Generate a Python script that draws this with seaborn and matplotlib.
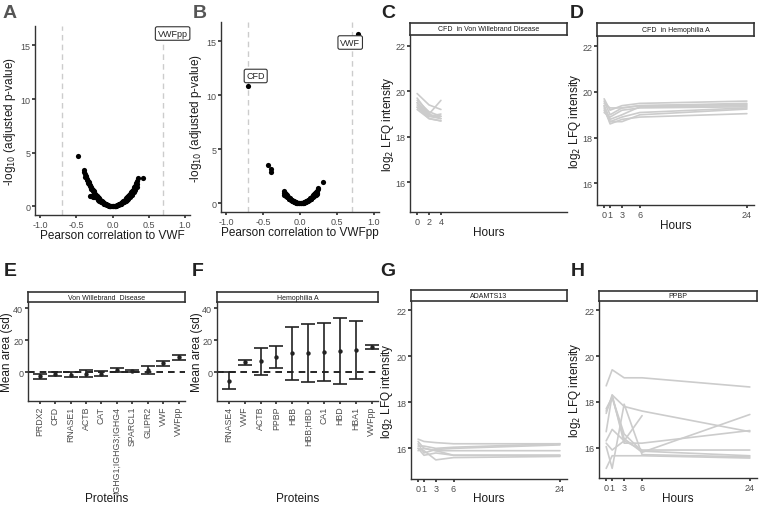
import numpy as np
import pandas as pd
import matplotlib
matplotlib.use('Agg')
import matplotlib.pyplot as plt
import seaborn as sns

# ---- Panel A: correlation to VWF (volcano) ----
a_corr = [-0.47, -0.40, -0.39, -0.38, -0.37, -0.36, -0.35, -0.34, -0.33, -0.32, -0.31,
          -0.30, -0.29, -0.28, -0.27, -0.26, -0.25, -0.24, -0.23, -0.22, -0.21, -0.20,
          -0.19, -0.18, -0.17, -0.16, -0.15, -0.14, -0.13, -0.12, -0.11, -0.10, -0.09,
          -0.08, -0.07, -0.06, -0.05, -0.04, -0.03, -0.02, -0.01, 0.00, 0.01, 0.02,
          0.03, 0.04, 0.05, 0.06, 0.07, 0.08, 0.09, 0.10, 0.11, 0.12, 0.13, 0.14,
          0.15, 0.16, 0.17, 0.18, 0.19, 0.20, 0.21, 0.22, 0.23, 0.24, 0.25, 0.26,
          0.27, 0.28, 0.29, 0.30, 0.31, 0.32, 0.33, 0.34, 0.35, 0.42,
          -0.31, -0.29, -0.27, -0.25, -0.22, -0.20, -0.18, -0.15, -0.12, 0.12,
          0.15, 0.18, 0.21, 0.24, 0.27,
          -0.375, -0.355, -0.335, -0.315, -0.295, -0.275, -0.255, -0.235, -0.215,
          -0.195, -0.175, -0.155, -0.135, -0.115, -0.095, -0.075, -0.055, -0.035,
          0.035, 0.055, 0.075, 0.095, 0.115, 0.135, 0.155, 0.175, 0.195, 0.215,
          0.235, 0.255, 0.275, 0.295, 0.315, 0.335, 0.345]
a_logp = [4.70, 3.40, 3.20, 3.00, 2.85, 2.70, 2.55, 2.40, 2.25, 2.10, 2.00,
          1.85, 1.75, 1.60, 1.50, 1.40, 1.30, 1.20, 1.10, 1.00, 0.95, 0.85,
          0.78, 0.70, 0.62, 0.55, 0.50, 0.43, 0.38, 0.32, 0.27, 0.23, 0.19,
          0.15, 0.12, 0.09, 0.07, 0.05, 0.03, 0.02, 0.01, 0.00, 0.01, 0.02,
          0.03, 0.05, 0.07, 0.09, 0.12, 0.15, 0.19, 0.23, 0.27, 0.32, 0.37, 0.42,
          0.48, 0.54, 0.60, 0.68, 0.75, 0.83, 0.90, 0.98, 1.07, 1.16, 1.25, 1.35,
          1.45, 1.55, 1.66, 1.78, 1.90, 2.05, 2.20, 2.40, 2.60, 2.60,
          1.00, 0.95, 0.90, 0.85, 0.75, 0.62, 0.50, 0.38, 0.27, 0.27,
          0.38, 0.55, 0.72, 0.95, 1.05,
          2.75, 2.45, 2.15, 1.90, 1.65, 1.45, 1.25, 1.05, 0.88,
          0.72, 0.58, 0.45, 0.35, 0.26, 0.18, 0.12, 0.07, 0.03,
          0.03, 0.07, 0.12, 0.18, 0.25, 0.33, 0.42, 0.52, 0.63, 0.75,
          0.88, 1.02, 1.18, 1.35, 1.55, 1.80, 2.10]

# ---- Panel B: correlation to VWFpp ----
b_corr = [-0.70, 0.78, -0.43, -0.39, -0.39, -0.22, -0.21, -0.20, -0.19, -0.18, -0.17,
          -0.16, -0.15, -0.14, -0.13, -0.12, -0.11, -0.10, -0.09, -0.08, -0.07, -0.06,
          -0.05, -0.04, -0.03, -0.02, -0.01, 0.00, 0.01, 0.02, 0.03, 0.04, 0.05, 0.06,
          0.07, 0.08, 0.09, 0.10, 0.11, 0.12, 0.13, 0.14, 0.15, 0.16, 0.17, 0.18,
          0.19, 0.20, 0.21, 0.22, 0.23, 0.24, 0.25, 0.31,
          -0.21, -0.19, -0.17, -0.15, 0.15, 0.18, 0.21, 0.23,
          -0.205, -0.185, -0.165, -0.145, -0.125, -0.105, -0.085, -0.065, -0.045,
          0.045, 0.065, 0.085, 0.105, 0.125, 0.145, 0.165, 0.185, 0.205, 0.225]
b_logp = [10.90, 15.70, 3.60, 3.20, 2.90, 1.10, 1.00, 0.92, 0.84, 0.76, 0.68,
          0.60, 0.53, 0.46, 0.40, 0.34, 0.29, 0.24, 0.20, 0.16, 0.12, 0.09,
          0.07, 0.05, 0.03, 0.02, 0.01, 0.00, 0.01, 0.02, 0.03, 0.05, 0.07, 0.09,
          0.12, 0.16, 0.20, 0.24, 0.29, 0.34, 0.40, 0.46, 0.53, 0.60, 0.68, 0.76,
          0.84, 0.92, 1.00, 1.08, 1.17, 1.30, 1.40, 2.00,
          0.75, 0.65, 0.55, 0.45, 0.40, 0.55, 0.75, 0.90,
          0.80, 0.68, 0.56, 0.45, 0.35, 0.26, 0.18, 0.11, 0.05,
          0.05, 0.11, 0.18, 0.26, 0.35, 0.45, 0.56, 0.68, 0.80, 0.95]

# ---- Panels C, D: CFD time courses ----
c_hours = [0, 2, 4]
c_values = [[19.9, 19.4, 19.2],
            [19.7, 19.0, 19.6],
            [19.6, 19.1, 18.9],
            [19.5, 19.0, 18.8],
            [19.4, 18.9, 18.8],
            [19.3, 18.8, 18.7],
            [19.2, 18.8, 18.7],
            [19.5, 18.9, 19.0],
            [19.3, 18.9, 18.9]]

d_hours = [0, 1, 3, 6, 24]
d_values = [[19.7, 19.2, 19.4, 19.5, 19.6],
            [19.6, 19.0, 19.3, 19.4, 19.45],
            [19.4, 18.8, 19.0, 19.35, 19.4],
            [19.3, 18.6, 18.8, 18.9, 19.05],
            [19.2, 18.7, 18.9, 19.1, 19.3],
            [19.1, 18.9, 19.2, 19.3, 19.35],
            [19.5, 19.3, 19.3, 19.4, 19.5],
            [19.4, 18.7, 18.7, 19.0, 19.25]]

# ---- Panels E, F: mean area (sd) ----
e_proteins = ['PRDX2', 'CFD', 'RNASE1', 'ACTB', 'CAT', 'IGHG1;IGHG3;IGHG4',
              'SPARCL1', 'GLIPR2', 'VWF', 'VWFpp']
e_mean = [-2.6, -1.3, -1.5, -0.8, -0.8, 1.3, 1.0, 1.3, 5.5, 9.3]
e_sd = [1.6, 1.2, 1.6, 2.0, 1.8, 1.4, 0.7, 2.4, 1.4, 1.6]

f_proteins = ['RNASE4', 'VWF', 'ACTB', 'PPBP', 'HBB', 'HBB;HBD', 'CA1', 'HBD',
              'HBA1', 'VWFpp']
f_mean = [-5.3, 6.2, 6.8, 9.8, 11.8, 11.9, 12.6, 13.3, 13.7, 16.0]
f_sd = [5.3, 1.5, 8.4, 6.9, 16.5, 18.1, 18.2, 20.6, 18.1, 1.3]

# ---- Panels G, H: ADAMTS13 and PPBP time courses ----
g_hours = [0, 1, 3, 6, 24]
g_values = [[16.4, 16.3, 16.25, 16.2, 16.2],
            [16.3, 16.0, 15.9, 15.9, 15.9],
            [16.1, 16.1, 16.0, 16.05, 16.2],
            [16.0, 15.7, 15.8, 15.7, 15.7],
            [16.0, 15.9, 15.5, 15.6, 15.65],
            [16.2, 15.8, 15.95, 16.0, 16.15],
            [15.9, 16.0, 15.9, 15.7, 15.7]]

h_hours = [0, 1, 3, 6, 24]
h_values = [[18.7, 19.4, 19.05, 19.05, 18.65],
            [17.5, 18.3, 17.8, 17.6, 16.7],
            [17.7, 18.2, 16.4, 15.8, 17.45],
            [16.7, 18.3, 16.2, 16.2, 16.75],
            [16.3, 16.8, 16.3, 15.9, 15.9],
            [16.05, 15.1, 17.9, 15.7, 15.6],
            [15.1, 15.65, 15.65, 15.65, 15.55],
            [16.2, 15.9, 16.3, 17.4, np.nan],
            [17.6, 18.2, 16.6, 15.85, 15.65]]

W, H = 760, 510
LINE_GREY = '#cccccc'
TEXT_GREY = '#4d4d4d'

sns.set_theme(style='ticks')
plt.rcParams['font.family'] = ['Liberation Sans', 'DejaVu Sans']
plt.rcParams['axes.edgecolor'] = '#333333'
plt.rcParams['axes.linewidth'] = 1.0
plt.rcParams['xtick.color'] = '#333333'
plt.rcParams['ytick.color'] = '#333333'
plt.rcParams['xtick.labelcolor'] = TEXT_GREY
plt.rcParams['ytick.labelcolor'] = TEXT_GREY
plt.rcParams['xtick.major.size'] = 2.2
plt.rcParams['ytick.major.size'] = 2.2
plt.rcParams['xtick.major.pad'] = 1.2
plt.rcParams['ytick.major.pad'] = 1.2
plt.rcParams['xtick.labelsize'] = 6.5
plt.rcParams['ytick.labelsize'] = 6.5
plt.rcParams['axes.labelsize'] = 8.5
plt.rcParams['axes.labelcolor'] = '#1a1a1a'

fig = plt.figure(figsize=(W / 100, H / 100), dpi=100)


def add_ax(left, top, right, bottom):
    """Axes from pixel box (y measured from top)"""
    return fig.add_axes([left / W, 1 - bottom / H, (right - left) / W, (bottom - top) / H])


def add_strip(left, top, right, bottom, label):
    s = add_ax(left, top, right, bottom)
    s.set_xticks([])
    s.set_yticks([])
    for sp in s.spines.values():
        sp.set_visible(True)
        sp.set_linewidth(1.2)
        sp.set_color('#333333')
    s.text(0.5, 0.5, label, ha='center', va='center', fontsize=5, color='#1a1a1a',
           transform=s.transAxes)


def place_labels(ax, box, xlab_top, ylab_center):
    """Put axis titles at pixel positions like the reference"""
    left, top, right, bottom = box
    ax.xaxis.set_label_coords(0.5, (bottom - xlab_top) / (bottom - top))
    ax.yaxis.set_label_coords((ylab_center + 8 - left) / (right - left), 0.5)


def classic(ax):
    sns.despine(ax=ax)
    ax.grid(False)


def volcano(ax, corr, logp, xlabel, labels):
    ax.axvline(-0.7, color=LINE_GREY, ls=(0, (4, 3)), lw=1, zorder=0)
    ax.axvline(0.7, color=LINE_GREY, ls=(0, (4, 3)), lw=1, zorder=0)
    df = pd.DataFrame({'r': corr, 'p': logp})
    sns.scatterplot(data=df, x='r', y='p', ax=ax, color='black', s=14, linewidth=0)
    for txt, x, y in labels:
        ax.text(x, y, txt, ha='center', va='center', fontsize=6.5, color='#222222',
                bbox=dict(boxstyle='round,pad=0.25,rounding_size=0.2', fc='white',
                          ec='#333333', lw=0.8), clip_on=False)
    ax.set_xlim(-1.07, 1.07)
    ax.set_ylim(-0.8, 16.8)
    ax.set_xticks([-1.0, -0.5, 0.0, 0.5, 1.0])
    ax.set_xticklabels(['-1.0', '-0.5', '0.0', '0.5', '1.0'])
    ax.set_yticks([0, 5, 10, 15])
    ax.set_xlabel(xlabel)
    ax.set_ylabel(r'-log$_{10}$ (adjusted p-value)')
    classic(ax)


def timecourse(ax, hours, values, xticks, ylim):
    rows = []
    for i, series in enumerate(values):
        for h, v in zip(hours, series):
            if not np.isnan(v):
                rows.append({'sample': i, 'hours': h, 'value': v})
    df = pd.DataFrame(rows)
    sns.lineplot(data=df, x='hours', y='value', units='sample', estimator=None,
                 color=LINE_GREY, lw=1.2, ax=ax)
    ax.set_xlim(-1.2, 25.2)
    ax.set_ylim(*ylim)
    ax.set_xticks(xticks)
    ax.set_yticks([16, 18, 20, 22])
    ax.set_xlabel('Hours')
    ax.set_ylabel(r'log$_2$ LFQ intensity')
    classic(ax)


def mean_sd(ax, proteins, means, sds):
    x = np.arange(len(proteins))
    ax.axhline(0, color='black', ls=(0, (4, 3)), lw=1.2, zorder=0)
    ax.errorbar(x, means, yerr=sds, fmt='none', ecolor='#222222', elinewidth=1.2,
                capsize=4.7, capthick=1.2)
    df = pd.DataFrame({'x': x, 'mean': means})
    sns.scatterplot(data=df, x='x', y='mean', ax=ax, color='#222222', s=10,
                    linewidth=0, zorder=3)
    ax.set_xlim(-0.75, 9.4)
    ax.set_ylim(-18, 44)
    ax.set_xticks(x)
    ax.set_xticklabels(proteins, rotation=90, fontsize=6.3)
    ax.set_yticks([0, 20, 40])
    ax.set_xlabel('Proteins')
    ax.set_ylabel('Mean area (sd)')
    classic(ax)


# A
boxA = (35, 27, 190, 216)
axA = add_ax(*boxA)
volcano(axA, a_corr, a_logp, 'Pearson correlation to VWF', [('VWFpp', 0.83, 16.1)])
place_labels(axA, boxA, 230, 10)

# B
boxB = (221, 23, 379, 213)
axB = add_ax(*boxB)
volcano(axB, b_corr, b_logp, 'Pearson correlation to VWFpp',
        [('CFD', -0.60, 11.8), ('VWF', 0.68, 14.9)])
place_labels(axB, boxB, 227, 196)

# C
boxC = (410, 36, 567, 213)
axC = add_ax(*boxC)
timecourse(axC, c_hours, c_values, [0, 2, 4], (14.7, 22.47))
add_strip(410, 24, 567, 36, 'CFD  in Von Willebrand Disease')
place_labels(axC, boxC, 227, 388)

# D
boxD = (597, 37, 754, 206)
axD = add_ax(*boxD)
timecourse(axD, d_hours, d_values, [0, 1, 3, 6, 24], (15.05, 22.45))
add_strip(597, 24, 754, 37, 'CFD  in Hemophilia A')
place_labels(axD, boxD, 220, 575)

# E
boxE = (28, 303, 185, 402)
axE = add_ax(*boxE)
mean_sd(axE, e_proteins, e_mean, e_sd)
add_strip(28, 293, 185, 303, 'Von Willebrand  Disease')
place_labels(axE, boxE, 493, 5)

# F
boxF = (217, 303, 378, 402)
axF = add_ax(*boxF)
mean_sd(axF, f_proteins, f_mean, f_sd)
add_strip(217, 293, 378, 303, 'Hemophilia A')
place_labels(axF, boxF, 493, 195)

# G
boxG = (411, 302, 567, 480)
axG = add_ax(*boxG)
timecourse(axG, g_hours, g_values, [0, 1, 3, 6, 24], (14.67, 22.4))
add_strip(411, 291, 567, 302, 'ADAMTS13')
place_labels(axG, boxG, 493, 387)

# H
boxH = (599, 302, 757, 479)
axH = add_ax(*boxH)
timecourse(axH, h_hours, h_values, [0, 1, 3, 6, 24], (14.68, 22.4))
add_strip(599, 292, 757, 302, 'PPBP')
place_labels(axH, boxH, 493, 575)

# panel letters
letters = [('A', 10, 14, '#555555'), ('B', 200, 14, '#555555'), ('C', 388, 14, '#222222'),
           ('D', 577, 14, '#222222'), ('E', 10, 272, '#222222'), ('F', 198, 272, '#222222'),
           ('G', 388, 272, '#222222'), ('H', 578, 272, '#222222')]
for txt, x, y, col in letters:
    fig.text(x / W, 1 - y / H, txt, fontsize=14, fontweight='bold', color=col,
             ha='center', va='center')

fig.savefig('out.png', dpi=100)
plt.close('all')
